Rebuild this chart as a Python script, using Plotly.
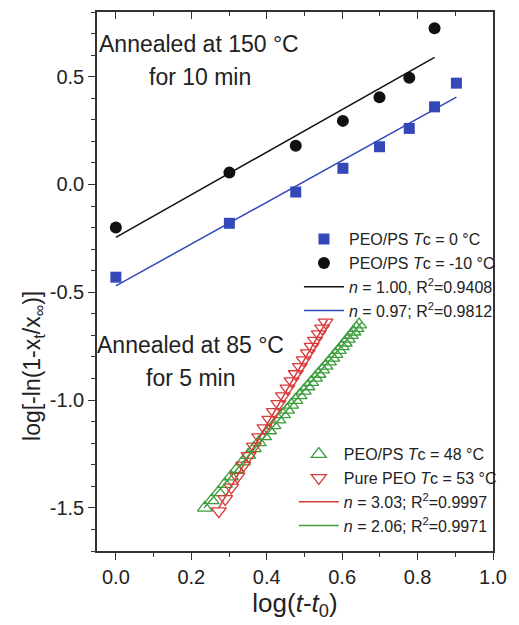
import plotly.graph_objects as go

# ---- data ----
x_blue = [0.0, 0.301, 0.477, 0.602, 0.699, 0.778, 0.845, 0.903]
y_blue = [-0.43, -0.18, -0.035, 0.075, 0.175, 0.26, 0.36, 0.47]

x_black = [0.0, 0.301, 0.477, 0.602, 0.699, 0.778, 0.845]
y_black = [-0.20, 0.055, 0.18, 0.295, 0.405, 0.495, 0.725]

fit_black_x = [0.0, 0.845]
fit_black_y = [-0.245, 0.59]
fit_blue_x = [0.0, 0.903]
fit_blue_y = [-0.47, 0.405]

x_green = [0.236, 0.254, 0.272, 0.289, 0.305, 0.321, 0.337, 0.351, 0.366, 0.379,
           0.393, 0.406, 0.418, 0.431, 0.443, 0.454, 0.465, 0.476, 0.487, 0.498,
           0.508, 0.518, 0.528, 0.537, 0.547, 0.556, 0.565, 0.574, 0.582, 0.591,
           0.599, 0.607, 0.615, 0.623, 0.630, 0.638, 0.645]
y_green = [-1.500, -1.465, -1.428, -1.390, -1.355, -1.320, -1.285, -1.255, -1.224, -1.196,
           -1.168, -1.141, -1.117, -1.091, -1.066, -1.045, -1.022, -1.000, -0.978, -0.957,
           -0.937, -0.917, -0.897, -0.879, -0.859, -0.841, -0.822, -0.804, -0.787, -0.768,
           -0.751, -0.734, -0.716, -0.699, -0.683, -0.666, -0.650]

x_red = [0.273, 0.290, 0.306, 0.322, 0.338, 0.352, 0.366, 0.380, 0.394, 0.407,
         0.419, 0.431, 0.443, 0.455, 0.466, 0.477, 0.488, 0.498, 0.509, 0.519,
         0.528, 0.538, 0.547, 0.556]
y_red = [-1.515, -1.458, -1.405, -1.355, -1.303, -1.259, -1.215, -1.172, -1.130, -1.091,
         -1.055, -1.018, -0.982, -0.946, -0.912, -0.879, -0.846, -0.815, -0.782, -0.752,
         -0.724, -0.694, -0.667, -0.640]

fit_red_x = [0.273, 0.561]
fit_red_y = [-1.50, -0.627]
fit_green_x = [0.234, 0.652]
fit_green_y = [-1.50, -0.639]

x_ticks = [0.0, 0.2, 0.4, 0.6, 0.8, 1.0]
y_ticks = [-1.5, -1.0, -0.5, 0.0, 0.5]

BLUE = "#3448b8"
GREEN = "#3c9e3c"
RED = "#d83a3a"
FONT = "Liberation Sans, Arial, sans-serif"
TXT = "#222222"

fig = go.Figure()

# legend 1 group
fig.add_trace(go.Scatter(x=x_blue, y=y_blue, mode="markers", name="PEO/PS <i>T</i>c = 0 °C",
                         marker=dict(symbol="square", size=11, color=BLUE), legend="legend", legendrank=1))
fig.add_trace(go.Scatter(x=x_black, y=y_black, mode="markers", name="PEO/PS <i>T</i>c = -10 °C",
                         marker=dict(symbol="circle", size=12, color="#111111"), legend="legend", legendrank=2))
fig.add_trace(go.Scatter(x=fit_black_x, y=fit_black_y, mode="lines", name="<i>n</i> = 1.00, R<sup>2</sup>=0.9408",
                         line=dict(color="#111111", width=1.5), legend="legend", legendrank=3))
fig.add_trace(go.Scatter(x=fit_blue_x, y=fit_blue_y, mode="lines", name="<i>n</i> = 0.97; R<sup>2</sup>=0.9812",
                         line=dict(color=BLUE, width=1.5), legend="legend", legendrank=4))

# legend 2 group
fig.add_trace(go.Scatter(x=x_green, y=y_green, mode="markers", name="PEO/PS <i>T</i>c = 48 °C",
                         marker=dict(symbol="triangle-up-open", size=13, color=GREEN, line=dict(width=1.3)),
                         legend="legend2", legendrank=5))
fig.add_trace(go.Scatter(x=x_red, y=y_red, mode="markers", name="Pure PEO <i>T</i>c = 53 °C",
                         marker=dict(symbol="triangle-down-open", size=13, color=RED, line=dict(width=1.3)),
                         legend="legend2", legendrank=6))
fig.add_trace(go.Scatter(x=fit_red_x, y=fit_red_y, mode="lines", name="<i>n</i> = 3.03; R<sup>2</sup>=0.9997",
                         line=dict(color=RED, width=1.5), legend="legend2", legendrank=7))
fig.add_trace(go.Scatter(x=fit_green_x, y=fit_green_y, mode="lines", name="<i>n</i> = 2.06; R<sup>2</sup>=0.9971",
                         line=dict(color=GREEN, width=1.5), legend="legend2", legendrank=8))

# invisible trace for top axis ticks
fig.add_trace(go.Scatter(x=[0, 1], y=[0, 0], xaxis="x2", mode="markers",
                         marker=dict(opacity=0), showlegend=False, hoverinfo="skip"))

axis_common = dict(showgrid=False, zeroline=False, linecolor="#333333", linewidth=1.5,
                   tickcolor="#333333", tickwidth=1.3,
                   tickfont=dict(family=FONT, size=20, color=TXT))

fig.update_layout(
    width=519, height=625,
    margin=dict(l=97, r=18, t=12, b=74),
    paper_bgcolor="white", plot_bgcolor="white",
    font=dict(family=FONT, color=TXT),
    xaxis=dict(range=[-0.05, 1.0], tickvals=x_ticks, ticktext=[f"{v:.1f}" for v in x_ticks],
               ticks="outside", ticklen=7, mirror=False, showline=True,
               minor=dict(ticks="outside", ticklen=4, dtick=0.1, tick0=0, tickcolor="#333333"),
               title=dict(text="log(<i>t</i>-<i>t</i><sub>0</sub>)", font=dict(family=FONT, size=26, color=TXT),
                          standoff=6),
               **axis_common),
    xaxis2=dict(range=[-0.05, 1.0], overlaying="x", side="top", showticklabels=False,
                tickvals=x_ticks, ticks="inside", ticklen=7, showline=True,
                minor=dict(ticks="inside", ticklen=4, dtick=0.1, tick0=0, tickcolor="#333333"),
                **axis_common),
    yaxis=dict(range=[-1.7, 0.8], tickvals=y_ticks, ticktext=[f"{v:.1f}" for v in y_ticks],
               ticks="outside", ticklen=7, showline=True, mirror=True,
               minor=dict(ticks="outside", ticklen=4, dtick=0.1, tick0=0, tickcolor="#333333"),
               **axis_common),
    legend=dict(x=0.51, y=0.61, xanchor="left", yanchor="top", bgcolor="rgba(0,0,0,0)",
                font=dict(family=FONT, size=16, color=TXT), tracegroupgap=0, itemwidth=40),
    legend2=dict(x=0.497, y=0.211, xanchor="left", yanchor="top", bgcolor="rgba(0,0,0,0)",
                 font=dict(family=FONT, size=16, color=TXT), tracegroupgap=0, itemwidth=40),
    annotations=[
        dict(text="log[-ln(1-x<sub>t</sub>/x<sub>∞</sub>)]", x=-0.162, y=0.343, xref="paper", yref="paper",
             xanchor="center", yanchor="middle", textangle=-90, showarrow=False,
             font=dict(family=FONT, size=23, color=TXT)),
        dict(text="Annealed at 150 °C", x=0.257, y=0.940, xref="paper", yref="paper", showarrow=False,
             xanchor="center", yanchor="middle", font=dict(family=FONT, size=23, color=TXT)),
        dict(text="for 10 min", x=0.259, y=0.879, xref="paper", yref="paper", showarrow=False,
             xanchor="center", yanchor="middle", font=dict(family=FONT, size=23, color=TXT)),
        dict(text="Annealed at 85 °C", x=0.237, y=0.383, xref="paper", yref="paper", showarrow=False,
             xanchor="center", yanchor="middle", font=dict(family=FONT, size=23, color=TXT)),
        dict(text="for 5 min", x=0.235, y=0.3216, xref="paper", yref="paper", showarrow=False,
             xanchor="center", yanchor="middle", font=dict(family=FONT, size=23, color=TXT)),
    ],
)

fig.write_html("out.html")
